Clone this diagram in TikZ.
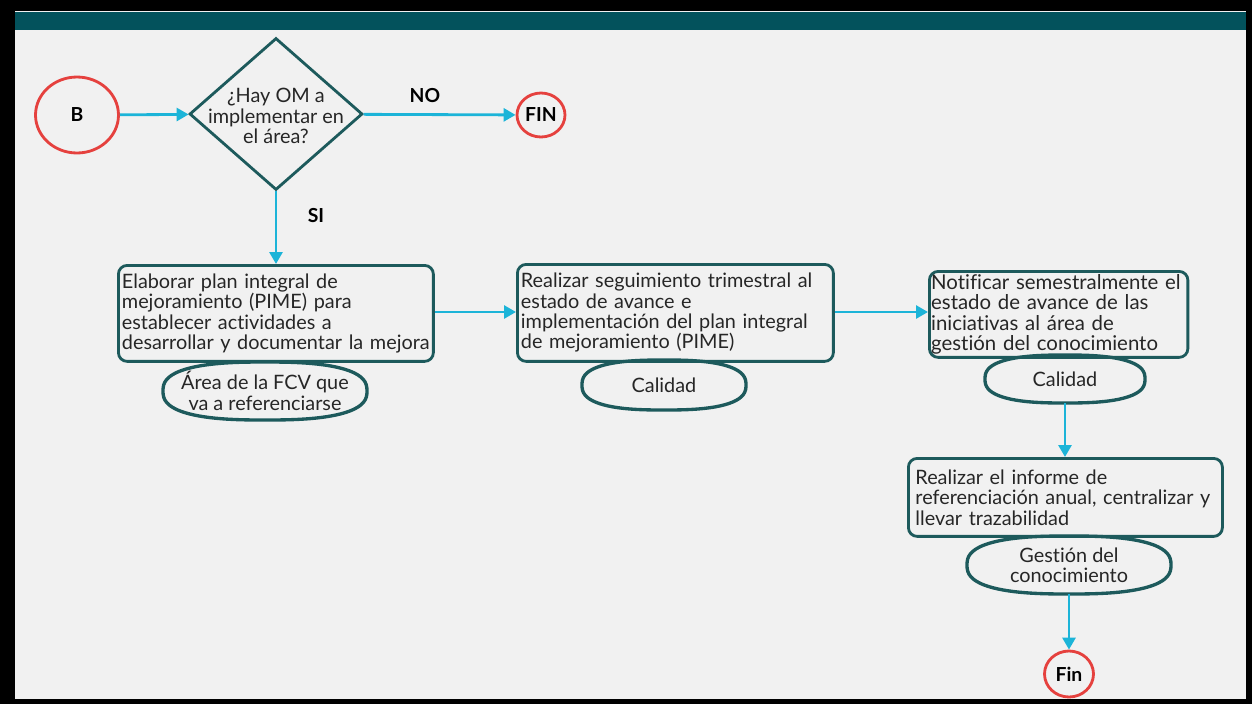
\documentclass[tikz,border=0pt]{standalone}
\usepackage{fontspec}
\setmainfont{Lato}[Ligatures=CommonOff]
\usetikzlibrary{arrows.meta,shapes.geometric}
\definecolor{bgc}{HTML}{F1F1F1}
\definecolor{headc}{HTML}{03525C}
\definecolor{boxc}{HTML}{1D5A5C}
\definecolor{redc}{HTML}{E5413E}
\definecolor{cyanc}{HTML}{1CB4D8}
\tikzset{
  txt/.style={font=\fontsize{11.3pt}{11.6pt}\selectfont, text=black!85},
  taskbox/.style={txt, draw=boxc, line width=1.6pt, rounded corners=5pt, align=left, inner sep=2pt, anchor=north west},
  rolebox/.style={txt, rectangle, inner sep=0pt, align=center},
  roleline/.style={draw=boxc, line width=1.9pt},
  endpt/.style={draw=redc, line width=1.6pt, ellipse, inner sep=0pt, font=\fontsize{11pt}{12pt}\selectfont\bfseries},
  flow/.style={draw=cyanc, line width=1.6pt, -{Triangle[length=0.24cm,width=0.26cm]}},
  lbl/.style={font=\fontsize{11pt}{12pt}\selectfont\bfseries}
}
\newcommand{\roleoutline}[3]{%
  \draw[roleline, shift={(#1.center)}] plot[domain=2:362, samples=73, smooth]
    ({#2*cos(\x)*pow(abs(cos(\x)),-0.23)}, {#3*sin(\x)*pow(abs(sin(\x)),-0.23)}) -- cycle;}
\begin{document}
\begin{tikzpicture}[x=0.02cm,y=-0.02cm]
\fill[black] (0,0) rectangle (1252,704);
\fill[bgc] (15,11) rectangle (1246,699);
\fill[headc] (15,12) rectangle (1246,30);
\useasboundingbox (0,0) rectangle (1252,704);

\node[endpt, minimum width=1.66cm, minimum height=1.52cm] (B) at (77,115) {B};
\node[draw=boxc, line width=1.6pt, diamond, minimum width=3.46cm, minimum height=3.04cm, inner sep=0pt] (D) at (276,114) {};
\node[txt, align=center] (Dt) at ([yshift=-0.04cm]D.center) {¿Hay OM a\\implementar en\\el área?};
\node[endpt, minimum width=0.96cm, minimum height=0.88cm] (FIN) at (541,115) {FIN};

\node[taskbox, text width=6.16cm, minimum height=1.92cm] (T1) at (117,264) {Elaborar plan integral de\\mejoramiento (PIME) para\\establecer actividades a\\desarrollar y documentar la mejora};
\node[rolebox, minimum width=4.1cm, minimum height=1.16cm] (R1) at (265,391) {Área de la FCV que\\va a referenciarse};
\roleoutline{R1}{102}{29}

\node[taskbox, text width=6.18cm, minimum height=1.94cm] (T2) at (516,263) {Realizar seguimiento trimestral al\\estado de avance e\\implementación del plan integral\\de mejoramiento (PIME)};
\node[rolebox, minimum width=3.3cm, minimum height=1.0cm] (R2) at (664,385) {Calidad};
\roleoutline{R2}{82}{25}

\node[taskbox, inner sep=1pt, text width=5.1cm, minimum height=1.72cm, font=\fontsize{11.6pt}{11.6pt}\selectfont] (T3) at (928,270) {Notificar semestralmente el\\estado de avance de las\\iniciativas al área de\\gestión del conocimiento};
\node[rolebox, minimum width=3.2cm, minimum height=0.96cm] (R3) at (1065,379) {Calidad};
\roleoutline{R3}{80}{24}

\node[taskbox, inner sep=4pt, text width=6.0cm, minimum height=1.56cm] (T4) at (907,457) {Realizar el informe de\\referenciación anual, centralizar y\\llevar trazabilidad};
\node[rolebox, minimum width=4.1cm, minimum height=1.16cm] (R4) at (1069,565) {Gestión del\\conocimiento};
\roleoutline{R4}{102}{29}
\node[endpt, minimum width=0.98cm, minimum height=0.92cm] (Fin) at (1069,674) {Fin};

\draw[flow] (B) -- (D);
\draw[flow] (D) -- (FIN);
\node[lbl] (NO) at (425,96) {NO};
\draw[flow] (D.south) -- (D.south |- T1.north);
\node[lbl] (SI) at (316,216) {SI};
\draw[flow] (T1.east |- 0,312) -- (T2.west |- 0,312);
\draw[flow] (T2.east |- 0,312) -- (T3.west |- 0,312);
\draw[flow] (R3.south) -- (R3.south |- T4.north);
\draw[flow] (R4.south) -- (Fin.north);
\end{tikzpicture}
\end{document}
